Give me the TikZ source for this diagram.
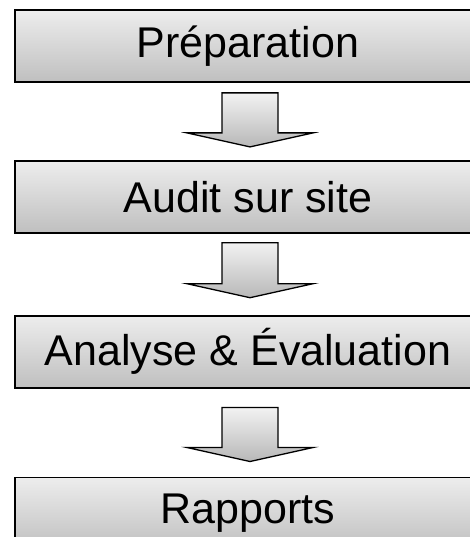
\documentclass[tikz,border=0pt]{standalone}
\usepackage{fontspec}
\setmainfont{Liberation Sans}
\usetikzlibrary{positioning, calc}

\begin{document}
\begin{tikzpicture}[
            x=1pt, y=1pt,
            every node/.style = {
                shape=rectangle, draw, line width=1.8pt,
                align=center, inner sep=0pt,
                minimum width=466pt, minimum height=72pt,
                top color=black!7, bottom color=black!25,
                font=\fontsize{43pt}{50pt}\selectfont
            }
        ]
        \tikzstyle{blockarrow}=[draw, line width=1.3pt, line join=miter,
                                top color=black!5, bottom color=black!28]

        \clip (0,0) rectangle (470,-537);
        \useasboundingbox (0,0) rectangle (470,-537);

            \node (prep) at (248,-46) {Préparation};
            \node[below=77pt of prep] (audit) {Audit sur site};
            \node[below=81pt of audit] (analyse) {Analyse \& Évaluation};
            \node[below=88pt of analyse] (rapports) {Rapports};

        % fleches entre les etapes
        \draw[blockarrow] ($(prep.south)+(-26pt,-10pt)$) -- ++(56,0) -- ++(0,-40)
            -- ++(35,0) -- ++(-63,-14) -- ++(-63,14) -- ++(35,0) -- cycle;
        \draw[blockarrow] ($(audit.south)+(-26pt,-9pt)$) -- ++(56,0) -- ++(0,-41)
            -- ++(35,0) -- ++(-63,-14) -- ++(-63,14) -- ++(35,0) -- cycle;
        \draw[blockarrow] ($(analyse.south)+(-26pt,-19pt)$) -- ++(56,0) -- ++(0,-40)
            -- ++(35,0) -- ++(-63,-14) -- ++(-63,14) -- ++(35,0) -- cycle;
        \end{tikzpicture}
\end{document}
